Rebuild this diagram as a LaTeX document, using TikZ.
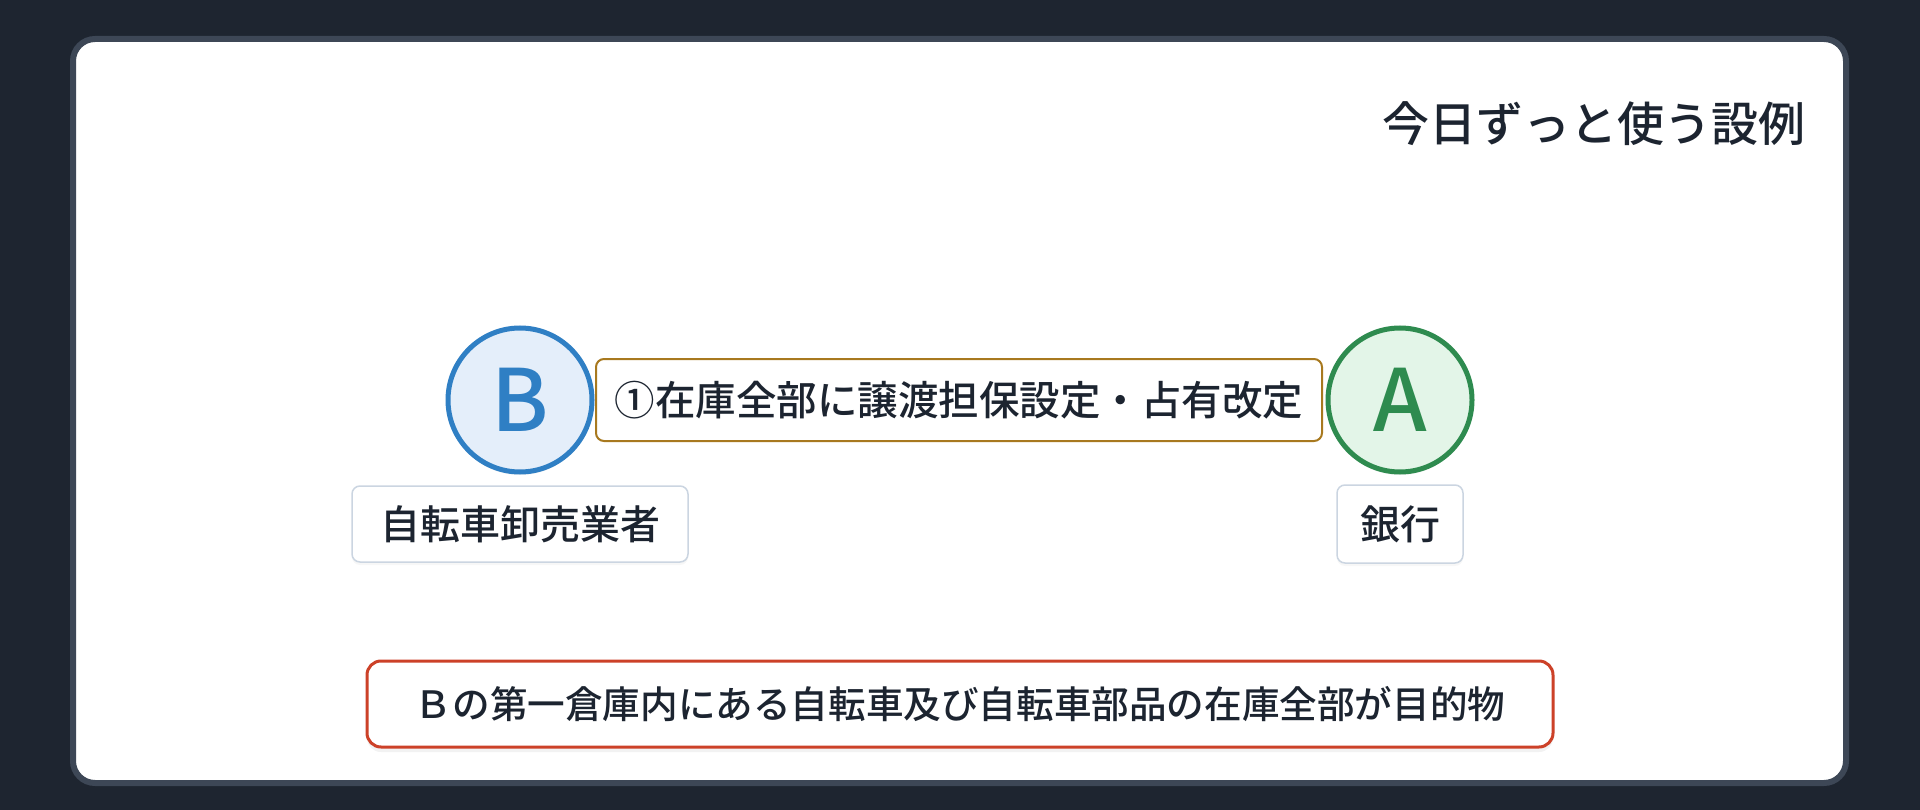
\documentclass[tikz,border=0pt]{standalone}
\usepackage{fontspec}
\newfontfamily\jp{Noto Sans CJK JP Medium}
\usetikzlibrary{shadows}
\definecolor{bgdark}{HTML}{1E2530}
\definecolor{cardborder}{HTML}{3D4756}
\definecolor{txt}{HTML}{1C2430}
\definecolor{bblue}{HTML}{2F7FC4}
\definecolor{bfill}{HTML}{E4EEFA}
\definecolor{agreen}{HTML}{2E8B4F}
\definecolor{afill}{HTML}{E3F5E8}
\definecolor{lblborder}{HTML}{CBD5E1}
\definecolor{goldborder}{HTML}{A8791F}
\definecolor{redborder}{HTML}{CC4128}
\tikzset{
  party/.style={circle, minimum size=144pt, inner sep=0pt, line width=5pt, font=\jp\fontsize{86}{90}\selectfont,
    drop shadow={opacity=0.08, shadow xshift=0pt, shadow yshift=-3pt}},
  lbl/.style={draw=lblborder, line width=1.5pt, fill=white, rounded corners=8pt, inner sep=0pt,
    text=txt, font=\jp\fontsize{40}{48}\selectfont,
    drop shadow={opacity=0.06, shadow xshift=0pt, shadow yshift=-3pt}},
  actbox/.style={draw=goldborder, line width=2pt, fill=white, rounded corners=8pt, inner sep=0pt,
    text=txt, font=\jp\fontsize{40.5}{48}\selectfont},
  notebox/.style={draw=redborder, line width=3pt, fill=white, rounded corners=14pt, inner sep=0pt,
    text=txt, font=\jp\fontsize{37.6}{44}\selectfont,
    drop shadow={opacity=0.10, shadow xshift=0pt, shadow yshift=-5pt}},
}
\begin{document}
\begin{tikzpicture}[x=1pt, y=-1pt]
\useasboundingbox (0,0) rectangle (1920,810);
\fill[bgdark] (0,0) rectangle (1920,810);
\draw[line width=6pt, draw=cardborder, fill=white, rounded corners=22pt] (73,39) rectangle (1846,783);
\node[anchor=east, text=txt, font=\jp\fontsize{47}{54}\selectfont, inner sep=0pt] (title) at (1806,124) {今日ずっと使う設例};
\node[party, draw=bblue, fill=bfill, text=bblue] (B) at (520,400) {B};
\node[party, draw=agreen, fill=afill, text=agreen] (A) at (1400,400) {A};
\node[actbox, minimum width=726pt, minimum height=82pt] (act) at (959,400) {①在庫全部に譲渡担保設定・占有改定};
\node[lbl, minimum width=336pt, minimum height=76pt] (Blbl) at (520,524) {自転車卸売業者};
\node[lbl, minimum width=126pt, minimum height=78pt] (Albl) at (1400,524) {銀行};
\node[notebox, minimum width=1186pt, minimum height=86pt] (note) at (960,704) {Ｂの第一倉庫内にある自転車及び自転車部品の在庫全部が目的物};
\end{tikzpicture}
\end{document}
